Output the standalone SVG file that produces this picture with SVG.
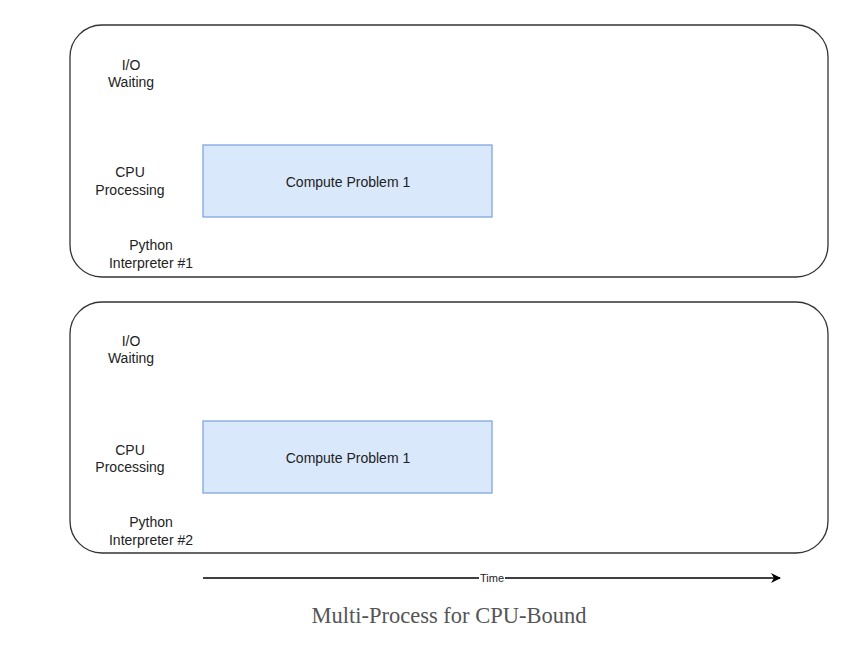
<svg xmlns="http://www.w3.org/2000/svg" width="851" height="652" viewBox="0 0 851 652">
<style>
.frame{fill:#fff;stroke:#333;stroke-width:1.3}
.task{fill:#dae8fc;stroke:#7ea6e0;stroke-width:1.3}
.lbl{font-family:"Liberation Sans",Arial,sans-serif;font-size:14px;fill:#222;text-anchor:middle}
.small{font-family:"Liberation Sans",Arial,sans-serif;font-size:11px;fill:#222;text-anchor:middle}
.cap{font-family:"Liberation Serif","Times New Roman",serif;font-size:22.5px;fill:#555;text-anchor:middle}
</style>
<defs>
<marker id="arr" markerWidth="10" markerHeight="10" refX="9" refY="5" orient="auto" markerUnits="userSpaceOnUse">
<path d="M0,0 L10,5 L0,10 L3,5 Z" fill="#000"/>
</marker>
</defs>
<rect width="851" height="652" fill="#fff"/>
<g id="interp1">
<rect class="frame" x="70" y="25" width="758" height="252" rx="32" ry="32"/>
<text class="lbl" x="131" y="70">I/O</text>
<text class="lbl" x="131" y="87">Waiting</text>
<text class="lbl" x="130" y="177">CPU</text>
<text class="lbl" x="130" y="195">Processing</text>
<text class="lbl" x="151" y="250">Python</text>
<text class="lbl" x="151" y="268">Interpreter #1</text>
</g>
<g id="task1">
<rect class="task" x="203" y="145" width="289" height="72"/>
<text class="lbl" x="348" y="187">Compute Problem 1</text>
</g>
<g id="interp2">
<rect class="frame" x="70" y="302" width="758" height="251" rx="32" ry="32"/>
<text class="lbl" x="131" y="346">I/O</text>
<text class="lbl" x="131" y="363">Waiting</text>
<text class="lbl" x="130" y="455">CPU</text>
<text class="lbl" x="130" y="472">Processing</text>
<text class="lbl" x="151" y="527">Python</text>
<text class="lbl" x="151" y="545">Interpreter #2</text>
</g>
<g id="task2">
<rect class="task" x="203" y="421" width="289" height="72"/>
<text class="lbl" x="348" y="463">Compute Problem 1</text>
</g>
<g id="connectors">
<line x1="203" y1="578" x2="780" y2="578" stroke="#000" stroke-width="1.3" marker-end="url(#arr)"/>
<rect x="479" y="572" width="26" height="12" fill="#fff"/>
<text class="small" x="492" y="582">Time</text>
</g>
<text class="cap" x="449" y="623">Multi-Process for CPU-Bound</text>
</svg>
